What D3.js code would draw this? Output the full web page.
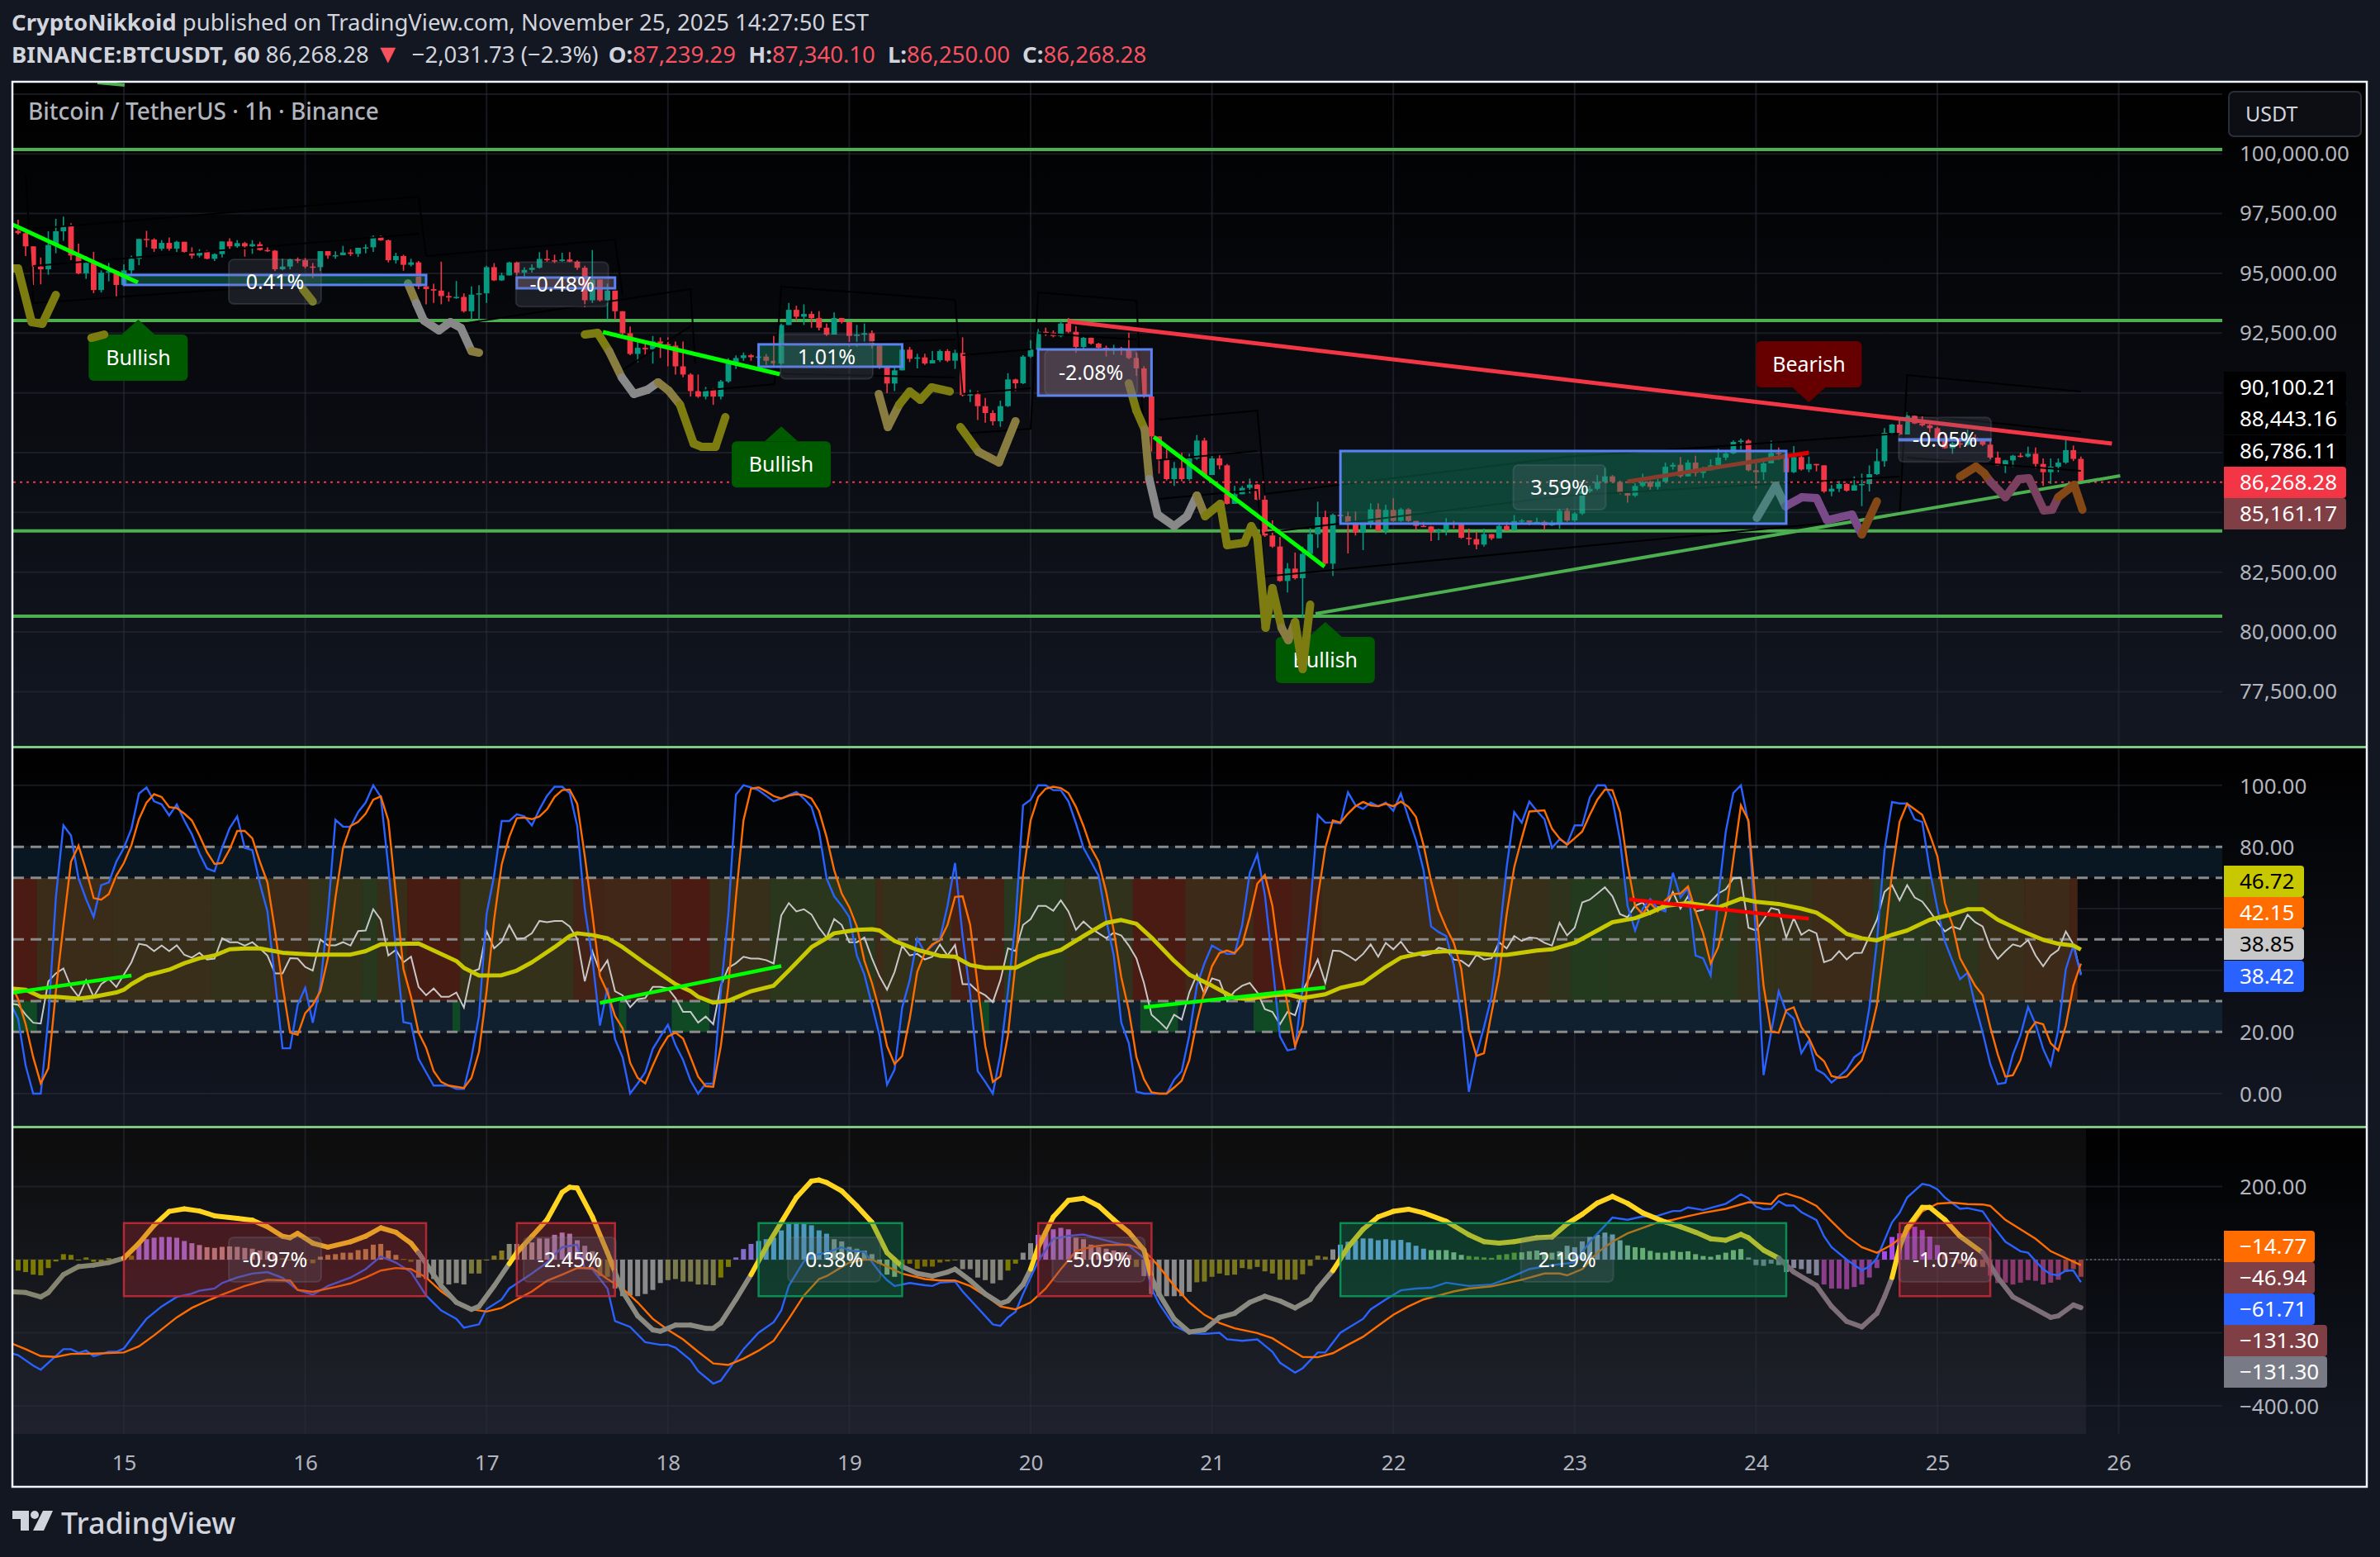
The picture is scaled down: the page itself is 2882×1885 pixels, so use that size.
<!DOCTYPE html>
<html><head><meta charset="utf-8">
<script src="https://cdnjs.cloudflare.com/ajax/libs/d3/7.8.5/d3.min.js"></script>
<style>html,body{margin:0;background:#131722}svg{display:block}text{font-family:"Noto Sans",sans-serif}</style>
</head><body><svg id="c" width="2882" height="1885"></svg>
<script>
// ---- candle data: one value per hour, hour 0 = Nov 15 00:00, first bar = hour -14
const firstOpen = 96780;
const closes = [96680,96130,95285,95170,96185,96760,96970,95745,95000,95435,94305,95030,95090,94515,
95125,95610,96440,96415,96035,96275,96035,96320,95900,95745,95900,95610,95805,96335,96130,96265,96130,96220,95975,95950,95170,95285,95585,95550,95285,95260,95930,95745,95760,95875,95815,96070,96090,96530,96380,95550,95725,95355,95460,94455,
94340,94280,94050,93990,94015,93415,94110,94165,95260,94705,94915,95455,95030,95145,95235,95605,95550,95515,95580,95490,95235,93875,94740,93875,94280,93415,92495,91630,91885,91825,92150,92035,91975,91110,90767,90075,89845,90135,89845,90480,91228,91458,91573,91493,91520,91343,91228,92840,93474,93186,93302,93128,92725,
92440,93132,92959,92383,92440,92498,91980,91116,90390,90943,91807,91427,91485,91231,91369,91749,91346,91669,89906,89941,89445,89157,88812,89445,90563,90402,91519,91807,92556,92521,92383,92901,92556,91922,92302,92060,91888,91807,91865,91807,91461,91024,89849,88178,87222,86394,86855,86394,87258,
88007,86567,87258,86970,85358,85761,86026,86164,85530,84033,83572,82132,82650,82247,83261,84090,84805,82858,84897,84839,84551,84148,84494,85127,84229,85104,84644,85127,84644,84436,84413,84183,84263,84551,84494,83941,83883,83653,84090,
83916,84434,84261,84641,84665,84573,84607,84457,84549,85068,84665,84953,85875,85989,86277,86508,86277,85816,85701,86105,86277,86070,86278,86911,86992,86508,87085,86647,86763,86970,87293,87465,87949,88007,86763,86682,87051,87488,87440,86682,87316,86797,87028,86970,85876,85991,86187,85910,86140,86187,86601,87143,88329,88675,88260,89044,88721,88640,88525,88064,87684,87892,87834,88122,88030,87834,87293,86970,87177,87373,87339,87454,87028,86682,86912,87085,87604,87239,86268.28];
const highs = [97240,96875,96130,95665,96760,97280,97370,97100,96240,95720,95900,95125,95435,95125,
95380,95745,96440,96780,96470,96390,96505,96360,96320,96090,96010,95975,95840,96335,96470,96390,96320,96390,96320,96100,95975,95610,95610,95665,95640,95435,95930,95930,95920,96150,96010,96070,96210,96590,96590,96415,95860,95780,95610,95520,
94860,94570,95490,94220,94680,94165,94455,94510,95315,95430,95030,95490,95490,95260,95375,95890,95975,95780,95860,95890,95550,95315,95975,94740,94570,94280,93185,92780,92150,92150,92380,92320,92320,92150,92150,90825,90767,90250,90190,90540,91450,91573,91690,91630,91630,91630,92380,92900,93760,93647,93705,93415,93415,
92901,93362,93132,92959,92844,92901,92613,92014,91116,91058,91865,91922,91634,91634,91749,91807,91830,91807,92325,90137,90079,89791,89273,89676,90828,90597,91577,92210,92671,92729,92613,93017,93132,92786,92383,92325,92095,91980,92014,91922,92521,91692,91116,89849,88178,87777,87109,87489,87454,
88238,88122,87431,87408,87028,86106,86106,86417,86187,85703,84666,83975,82881,83318,83572,84378,85450,85070,84955,84955,85035,85035,84551,85381,85381,85323,85588,85190,85180,84644,84610,84436,84320,84759,84643,84494,84321,84183,84321,
84088,84549,84607,84895,84723,84665,84780,84665,84665,85150,85183,85010,86277,86105,86566,86854,86566,86335,85874,86220,86623,86335,86393,87085,87085,87315,87200,87373,86912,87223,87661,87604,88007,88087,88064,87200,87200,88007,87719,87488,87776,87488,87339,87028,86947,86140,86394,86220,86509,86624,86970,87661,88525,88700,88928,89182,89067,89044,88700,88583,88295,87950,88122,88468,88260,88007,88007,87546,87200,87408,87488,87753,87719,87258,87258,87258,88122,87799,87340.10];
const lows = [96620,95720,94515,94540,94940,95840,96360,95550,94960,94770,94170,94200,94665,94020,
94515,94915,95345,96090,95900,95950,95950,95900,95860,95610,95665,95585,95515,95665,95975,96070,95700,95815,95950,95895,95090,95125,95170,95435,95205,94800,95090,95610,95610,95815,95725,95690,95840,95895,96360,95460,95410,95110,95285,94340,
93705,93760,93705,93820,93935,93360,93070,93015,93760,94680,94680,94915,94915,94860,95030,95200,95490,95430,95490,95465,95145,93590,93760,93820,93070,93070,92440,91575,91285,91575,91225,91460,91110,90767,90650,89845,89790,89730,89500,89730,90420,90997,91343,91343,91228,91170,91110,91170,92840,93013,92840,92725,92610,
92383,92670,92901,91922,91922,91980,91865,91000,89987,90079,91058,91289,91024,91173,91231,91289,91289,91000,89849,89618,88869,88754,88639,88581,89411,90079,90367,91461,91749,92383,92325,92325,92498,91669,91807,92014,91807,91519,91600,91577,91404,90713,89791,87545,86623,86335,86105,86300,86335,
87201,86510,86567,86798,85335,85381,85761,85795,85496,83975,83514,82097,81648,82190,80577,83169,83514,82823,82339,84551,83284,84033,83422,84344,84206,84090,84609,84609,84606,84263,84390,83802,83837,84033,84330,83900,83630,83457,83572,
83850,83916,84230,84261,84510,84465,84550,84261,84432,84319,84610,84610,84895,85816,85930,86220,86220,85758,85413,85643,86045,85950,85930,86230,86790,86450,86700,86509,86440,86800,86912,87177,87431,87627,86720,85991,86359,87440,87200,86650,86647,86750,86682,86717,85818,85680,85850,85870,85910,85265,85876,86567,86912,88237,88230,88260,88695,88590,88350,87950,87660,87454,87700,87800,87950,87780,87223,86947,86647,86900,87295,87295,86832,86106,86187,86680,87028,87150,86250];

// ---- RSI pane series: one value per hour, first = hour -15
const rsiBlue = [29.2,24.3,9.1,0,0,24.3,63.6,87,83.7,69.8,63.1,57.3,67.6,68.5,75.2,79.7,85.9,97.3,99.3,94.8,93.8,90.2,93.8,88.6,84.1,77.9,73,72.1,79.7,86.1,89.9,79.7,79,68.1,59.1,36.8,14.7,14.7,28.8,34.3,23,35,58.2,88.8,86.6,86.5,91.3,94.4,100,96.2,73.4,46.6,23.2,22.7,11.3,6.9,2.6,2.6,2.6,1.5,1.5,11.8,25.2,58.2,70.7,88.4,88.4,90.6,89.9,87,92.2,96.6,99.5,99.5,97.5,86.8,60,43.9,22.1,34.3,17.6,11.8,0,3.3,6.9,14.5,18.5,22.3,15.8,10.9,4.2,0,3.2,3.2,33.2,58.2,96.9,100,99.3,98.4,96.6,94.8,95.7,96.8,97.8,95.7,93,85,69.8,
64,60.9,57.3,44.8,38.6,28.8,18.9,2.9,7.8,27.9,36.8,50.2,45.7,48,50.2,60.9,74.8,51.1,32.3,7.3,3.8,0,12.7,33.2,55.6,93.5,95.3,100,100,98.4,98.4,94.8,87.7,79.7,75.2,70.7,56.4,44.8,23,16.3,.6,0,0,0,0,4.5,7.3,18.9,35,42.2,48,46.6,45.3,45.3,54.7,71.6,77.6,64.5,42.2,18.5,14,14.5,35,60,90.4,87.9,87.9,87.7,97.7,93.5,92.3,94.4,93.2,94.4,91.7,97.3,89.5,82.3,72.5,54.2,52.4,51.1,41.7,24.3,.6,12.7,21.6,31.4,50.2,73.4,91.3,87.9,94.7,91.7,89,79.7,82.5,81,87,87,96,100,100,95.3,82.3,60.9,52.9,60,63.1,
60,59.1,71.6,63.6,66.7,44.8,43.9,38.3,63.6,85,97.5,100,87.7,51.1,6,19.8,33.2,26.5,24.3,13.1,17.2,7.8,6.4,3.6,5.6,7.8,11.8,13.6,27.9,49.3,78.8,94.6,94.1,94.1,89,88.1,72.5,60,49.3,43,37.1,39.2,28.8,19.8,9.6,3.1,3.5,12.7,18.9,28.1,22.5,14.5,9.1,20.7,40.4,48,38.42];
const rsiOrange = [35.9,30.6,22.5,11.8,3.3,8.2,33.2,54.7,75.2,80.4,72.5,63.4,62.9,64.7,70.7,74.8,80.6,89,94.4,97.1,96.2,92.9,92.6,90.8,88.6,83.7,78.3,74.5,74.8,79.2,85.2,85.2,82.8,75.2,68.5,52.9,35,19.8,19.1,26.1,28.8,33.2,43.9,63.6,79.7,86.8,88.1,90.8,95.3,96.4,88.6,64.5,40.4,31.4,19.8,14.9,7.3,3.8,2.6,2.2,1.8,5.1,13.6,33.2,56.4,74.3,83.2,89.3,89.5,89,89.9,92.2,96.2,98.4,98.6,94,77,58.2,38.1,32.8,25.2,21.2,10,5.1,3.3,9.1,14.5,18.5,19.8,17.9,11.8,5.5,2.4,2.2,15.4,35,63.6,88.6,98.9,99.3,98,96.5,95.7,96.6,97.1,96.8,95.7,91.7,83.2,
72.5,64.9,60.5,54.2,43.1,35.9,27,15.4,9.6,12.2,24.3,39.5,45.7,48.4,49.7,54.7,63.8,64,54.7,35,15.4,3.8,5.6,18.9,42.2,70.7,88.6,96.2,98.9,99.5,99.1,97.5,93,86.8,79.7,75.2,65.4,52.9,37.7,27,11.8,4.7,.4,0,0,2,4.2,10.9,23.4,33.2,41.3,45.6,46.4,45.6,48.4,57.3,68.1,70.9,60.9,42.2,28.8,15.4,22.1,43.1,63.6,79.7,88.6,87.9,90.8,93.2,94.6,93.5,93.2,94,93.2,94.7,93,89.7,80.6,68.9,59.6,53.8,48.9,40.4,20.7,12.2,13.1,26.1,38.6,58.2,73.4,82.8,91.5,91.7,91.9,85.9,82.8,80.7,82.8,85,90.4,95.3,98.6,98.4,91.3,74.3,60.9,58.2,61.8,
59.1,62.7,64.7,64.9,67.2,59.1,52,42.2,47.5,58.2,76.1,93.5,88.6,60,35,20.1,19.8,27,28,21.6,18,12.7,10.5,5.7,5.1,5.5,8.2,10.9,18,28.8,49.3,71.6,88.1,94,92.2,90.4,84.1,77,61.8,54.7,43.9,39.5,35,31.9,21.6,12.7,5.5,6,10.9,19.8,23.2,22.5,16.3,14,22.1,35,42.15];
const rsiWhite = [29.2,28.8,25.6,23,22.7,36.4,39,40.6,34.6,31.4,36.8,31.4,35.5,37.2,34.6,38.6,42.6,48.6,48.1,46.2,48,46.2,48.1,45,44.1,45.7,43.5,43.8,50.4,49.1,49.1,48,49.1,47.1,44.8,39,39,43.9,43.8,41.1,39.9,50,48.1,48.1,49.1,48,52.7,52.9,59.8,56.4,44.8,46.6,42.6,44.4,34.6,31.9,34.1,31.4,31.4,32.8,27.9,39.5,40.4,52.7,47.1,49.3,54.7,50.2,50.4,52,56,55.6,56,56,54.2,50.2,36.4,46.2,39.5,43.2,33.2,31.9,28,30.6,31,34.6,34.6,34.1,31,26.5,26.5,23,25,22.5,35,40.8,42.3,44.4,43.8,43.8,43.3,42.2,57.8,61.8,59.1,59.8,58.1,53.8,50.6,
56.6,54.7,49.1,49.1,50.6,43.9,38.1,33.7,39.5,48,44.8,45.3,43.5,44.4,48.4,44.8,48.2,35.5,35.5,33.2,31.9,29.7,36.8,47.1,46.2,54.7,56.6,60.9,60.9,59.3,62.7,59.1,53.1,55.8,53.6,52,50.4,52.2,51.3,48,43.9,35.9,25.6,23.4,21,25.6,24,32.8,38.6,32.3,37.4,36.6,30.1,33.2,35,35.9,32.8,27.4,26.5,22.5,26.5,25.4,33.2,38.1,43.5,35.9,46.4,46.2,44.8,43.2,45.3,48.4,44.4,48.9,46.8,49.3,45.9,45.3,44.7,45.3,47.3,46.8,43.5,43.1,41.3,45,43.5,43.9,49.1,47.1,51.1,49.5,50.6,50.4,48.9,48,55.4,51.3,53.8,62,62.9,64.9,66.9,64,58.2,57.2,60.9,62,58.2,
60.5,60,65.4,60,64,59.1,59.6,62.3,64.9,66.3,69.8,70,53.8,52.9,56.4,60.2,59.6,50.6,56.9,51.5,53.1,52,42.6,43.5,46.2,43.5,45.6,45.7,51.1,56.4,65.4,67.6,62.7,67.6,63.6,62.3,59.1,55.6,52.6,54.2,53.3,58,55.6,54.2,47.5,43.7,46.2,48.4,47.7,49.8,44.8,41.3,44.8,46.6,52.6,48.4,38.85];
// RSI moving average, read at its bends as [hour, value]
const rsiYellow = [[-15,34.1],[-13,33.7],[-11,31.4],[-9,31.4],[-6,30.8],[-4,31.4],[-1,32.8],[0,33.7],[1,35.5],[3,38.3],[6,40.2],[8,42.3],[10,43.9],[12,44.8],[14,46.8],[16,47.1],[18,47.1],[21,45.7],[25,45.1],[30,45.1],[32,46.2],[34,48.4],[39,48.7],[44,43],[45,40.8],[47,38.3],[50,38.4],[52,39.9],[54,42.6],[57,47.5],[59,51.1],[60,52],[62,51.4],[64,50.4],[66,47.5],[69,42.2],[73,35.5],[75,33.2],[76,31.4],[78,29.5],[80,30.1],[83,33.2],[86,35],[88,39.9],[91,47.5],[93,50.4],[94,52],[97,53.1],[99,53.3],[100,52.9],[102,49.5],[105,46.6],[108,44.7],[110,44.4],[112,41.7],[114,40.8],[118,40.8],[121,44.4],[124,46.6],[127,51.1],[130,55.4],[132,56.3],[134,55.1],[136,50.6],[139,43],[141,38.6],[144,35],[147,31],[149,30.7],[152,31.9],[154,32.2],[156,31],[159,32.2],[161,34.3],[164,35.9],[167,41.1],[169,44.1],[172,45.7],[175,46.2],[178,45.7],[181,45],[183,45],[187,46.4],[189,46.8],[192,48.9],[195,52.9],[197,55.6],[200,56.9],[202,58.7],[204,60.9],[207,61.8],[211,60.4],[214,63.2],[216,62.2],[219,61.5],[222,60],[224,58.7],[226,55.6],[228,51.8],[230,50.4],[232,49.7],[234,51.5],[236,52.9],[239,56.4],[242,58.2],[244,59.8],[246,59.8],[248,56.4],[251,52.9],[254,49.9],[256,48.6],[258,48],[259,46.72]];
// heat band between 30 and 70: [from hour, to hour, level]
const heat = [[-15,-11,-.95],[-11,-1,-.1],[-1,12,0],[12,20,.25],[20,25,-.2],[25,32,.3],[32,34,.7],[34,38,.05],[38,45,-.85],[45,60,.25],[60,64,-.6],[64,73,-.45],[73,78,-.95],[78,86,.1],[86,100,.6],[100,101,-.3],[101,110,.25],[110,117,-.75],[117,125,.7],[125,134,.35],[134,141,-.95],[141,150,-.3],[150,155,-.95],[155,159,-.7],[159,177,-.1],[177,189,.1],[189,192,.4],[192,197,.8],[197,214,.7],[214,219,.3],[219,224,.2],[224,232,-.2],[232,239,.7],[239,246,.5],[246,252,0],[252,258,-.3],[258,259,-.6]];
// hours shaded green between RSI 20 and 30
const oversold = [[-15,-11],[44,45],[66,67],[73,78],[114,115],[135,140],[150,155]];
const rsiTrends = [{pts:[[-15,32.6],[1,38.3]],c:"#00ff00"},{pts:[[63,29.4],[87,41.4]],c:"#00ff00"},{pts:[[135,28],[159,34.4]],c:"#00ff00"},{pts:[[199.2,63],[223,56.7]],c:"#ff0000"}];

// ---- MACD pane
const macdHist = [-30,-30,-34,-41,-43,-23,-5,15,13,-2,6,-6,-8,4,4,8,11,41,56,60,62,62,60,51,45,40,34,32,35,36,35,32,30,25,23,15,4,0,4,0,-10,8,13,15,19,19,26,29,41,43,25,13,2,-6,-49,-53,-53,-66,-68,-64,-68,-38,-38,-1,11,25,43,43,45,47,58,58,68,74,71,53,38,23,-45,-47,-79,-100,-98,-100,-94,-83,-64,-56,-53,-60,-60,-68,-68,-70,-49,-20,6,29,43,51,56,60,80,98,100,98,94,80,71,
56,50,35,30,25,15,-11,-41,-47,-23,-11,-25,-19,-19,-8,-5,-2,-26,-26,-49,-56,-65,-56,-30,-11,19,45,68,79,83,87,83,60,56,41,34,30,25,20,13,-20,-45,-94,-100,-100,-100,-100,-88,-62,-60,-47,-38,-43,-41,-23,-26,-20,-32,-38,-55,-55,-55,-40,-17,11,8,28,41,49,53,58,58,53,56,53,54,47,38,30,26,26,26,20,13,10,8,6,5,13,15,19,20,23,25,20,19,23,38,34,50,62,68,74,69,53,39,34,32,24,
19,19,24,21,23,15,10,8,13,19,26,29,6,-15,-17,-11,-15,-34,-23,-26,-38,-43,-68,-79,-79,-81,-75,-68,-49,-23,23,62,72,92,90,81,63,40,19,4,-11,-15,-19,-20,-44,-64,-63,-68,-63,-56,-58,-68,-63,-55,-34,-26,-46.94];
const histStops = [[-15,"#808000"],[1,"#8a8000"],[2,"#ac7cff"],[8,"#ac7cff"],[11,"#c89898"],[20,"#c89898"],[21,"#8a7a10"],[25,"#8a7a10"],[26,"#c09050"],[36,"#c09050"],[37,"#807000"],[38,"#807000"],[39,"#8f8f88"],[45,"#8f8f88"],[46,"#808040"],[50,"#908020"],[51,"#90907a"],[54,"#c8a8a8"],[57,"#b898e0"],[60,"#b898e0"],[62,"#a09090"],[63,"#808020"],[64,"#808020"],[65,"#909090"],[71,"#909090"],[72,"#807f50"],[78,"#807f50"],[79,"#808000"],[80,"#808000"],[81,"#8a70d8"],[83,"#8a70d8"],[84,"#74a6ff"],[93,"#74a6ff"],[94,"#a8a8a8"],[99,"#a8a8a8"],[100,"#a8b888"],[102,"#a8b888"],[103,"#807000"],[110,"#807000"],[111,"#8a8a80"],[116,"#8a8a80"],[117,"#808000"],[118,"#808000"],[119,"#8f8f8f"],[120,"#8f8f8f"],[121,"#ac7cff"],[125,"#ac7cff"],[126,"#c89898"],[133,"#c89898"],[134,"#808020"],[135,"#909090"],[141,"#909090"],[142,"#807a20"],[159,"#807a20"],[160,"#909090"],[161,"#7cacff"],[172,"#7cacff"],[173,"#98c898"],[177,"#98c898"],[178,"#70a030"],[184,"#70a030"],[185,"#98c888"],[190,"#98c898"],[192,"#98a8e0"],[197,"#98a8e0"],[200,"#98c888"],[214,"#98c888"],[215,"#8a8aa0"],[224,"#8a8aa0"],[225,"#903f90"],[232,"#903f90"],[233,"#b04cf8"],[240,"#b04cf8"],[241,"#a06050"],[246,"#a06050"],[247,"#903a70"],[256,"#903a70"],[257,"#a04040"],[259,"#a04040"]];
const macdBlue = [[-15,-256],[-14,-261],[-12,-290],[-11,-301],[-10,-282],[-8,-245],[-7,-245],[-6,-255],[-5,-249],[-4,-264],[-2,-252],[-1,-252],[0,-243],[2,-188],[3,-162],[5,-128],[7,-102],[9,-93],[10,-85],[12,-79],[13,-64],[15,-49],[17,-38],[19,-34],[21,-50],[23,-83],[25,-96],[27,-72],[30,-49],[32,-26],[34,9],[36,-8],[38,-34],[40,-98],[42,-139],[44,-162],[45,-186],[47,-177],[48,-135],[50,-109],[51,-79],[54,-38],[56,-8],[58,34],[60,41],[61,-23],[62,-26],[64,-79],[65,-168],[67,-184],[69,-226],[71,-233],[72,-233],[73,-241],[75,-275],[76,-305],[78,-339],[79,-331],[82,-245],[84,-200],[86,-171],[87,-139],[88,-72],[90,-4],[91,11],[93,19],[95,34],[96,25],[98,21],[100,-34],[101,-56],[102,-72],[104,-64],[106,-70],[107,-72],[108,-63],[110,-60],[111,-87],[113,-132],[115,-177],[116,-181],[117,-158],[118,-143],[119,-94],[121,-4],[123,57],[125,65],[127,69],[129,58],[131,47],[133,38],[135,4],[136,-79],[137,-120],[139,-181],[141,-201],[143,-203],[145,-200],[146,-218],[148,-222],[150,-218],[152,-252],[153,-282],[155,-309],[156,-297],[158,-254],[159,-254],[161,-200],[164,-162],[165,-136],[167,-109],[169,-84],[171,-79],[173,-77],[175,-63],[178,-72],[181,-68],[183,-53],[186,-26],[189,-15],[192,-8],[194,49],[197,115],[199,109],[201,118],[203,120],[205,133],[206,133],[207,143],[209,136],[212,153],[214,179],[215,168],[216,145],[217,138],[218,139],[219,160],[220,148],[221,148],[222,130],[224,108],[225,64],[226,34],[228,0],[230,-29],[231,-19],[232,4],[234,102],[235,128],[236,170],[238,207],[239,203],[240,192],[241,170],[243,139],[244,141],[246,132],[247,102],[249,49],[251,23],[252,19],[253,-4],[254,-26],[255,-40],[256,-43],[257,-30],[258,-30],[259,-61.71]];
const macdOrange = [[-15,-228],[-13,-245],[-11,-264],[-9,-266],[-7,-258],[-4,-257],[0,-254],[2,-237],[4,-207],[7,-158],[9,-132],[11,-113],[13,-96],[16,-72],[19,-55],[22,-57],[23,-83],[25,-88],[28,-75],[30,-65],[32,-49],[34,-30],[36,-23],[38,-26],[40,-49],[42,-87],[44,-117],[46,-136],[48,-142],[50,-132],[52,-109],[54,-87],[56,-58],[58,-41],[60,-23],[62,-23],[64,-53],[66,-79],[68,-117],[70,-162],[72,-192],[74,-218],[76,-252],[78,-284],[80,-288],[82,-271],[84,-249],[86,-222],[88,-162],[90,-98],[92,-53],[93,-45],[96,-8],[98,0],[99,0],[101,-19],[103,-38],[106,-53],[108,-57],[110,-57],[112,-72],[114,-98],[116,-128],[118,-136],[120,-117],[122,-79],[124,-26],[126,23],[128,35],[130,40],[133,41],[135,26],[137,-19],[139,-72],[141,-117],[143,-151],[145,-173],[147,-188],[150,-201],[152,-215],[154,-241],[156,-266],[158,-267],[160,-256],[162,-233],[164,-211],[166,-181],[168,-151],[170,-128],[172,-109],[174,-98],[176,-87],[178,-79],[181,-73],[183,-64],[185,-55],[188,-38],[190,-38],[191,-43],[193,-26],[195,19],[197,49],[199,72],[201,87],[203,102],[205,109],[207,119],[209,128],[212,139],[215,157],[218,152],[219,175],[220,181],[222,168],[224,147],[226,105],[228,64],[230,34],[232,19],[234,41],[236,75],[238,132],[240,153],[242,156],[244,152],[246,151],[247,147],[249,109],[251,83],[253,57],[255,23],[257,4],[259,-14.77]];
const macdThick = [[-15,-88],[-13,-90],[-11,-102],[-10,-90],[-8,-41],[-6,-19],[-4,-15],[-2,-8],[0,4],[2,45],[4,94],[6,132],[8,139],[10,133],[12,120],[15,113],[17,108],[19,90],[21,64],[22,60],[23,72],[25,45],[27,34],[30,49],[32,64],[34,87],[36,75],[38,45],[39,19],[40,-11],[42,-72],[44,-117],[46,-136],[47,-128],[49,-72],[51,-11],[52,19],[54,64],[56,109],[58,184],[59,198],[60,196],[62,117],[64,19],[65,-34],[66,-87],[68,-154],[70,-192],[71,-196],[73,-179],[75,-179],[77,-188],[78,-188],[79,-173],[81,-109],[83,-41],[85,34],[87,102],[89,170],[91,215],[92,218],[93,211],[95,188],[97,147],[99,102],[101,19],[102,0],[103,-19],[105,-38],[107,-45],[109,-34],[110,-26],[112,-57],[114,-94],[116,-120],[117,-113],[119,-68],[120,-26],[121,34],[123,117],[125,162],[127,168],[129,147],[131,109],[133,75],[135,26],[136,-49],[137,-94],[139,-162],[141,-198],[143,-192],[145,-158],[147,-147],[149,-117],[151,-100],[153,-113],[155,-132],[157,-109],[158,-79],[160,-30],[162,34],[164,83],[166,117],[168,132],[170,138],[172,128],[175,105],[178,68],[180,49],[182,45],[184,49],[187,60],[189,62],[191,98],[193,124],[195,155],[197,173],[199,154],[201,128],[204,103],[206,90],[208,75],[210,57],[212,53],[214,69],[215,60],[217,26],[219,4],[221,-34],[224,-71],[226,-128],[228,-169],[230,-184],[232,-147],[233,-102],[234,-49],[235,34],[236,87],[238,143],[239,143],[241,109],[243,64],[246,19],[248,-49],[250,-102],[252,-124],[255,-158],[256,-154],[258,-124],[259,-131.3]];
const thickColours = [[-15,"#85856f"],[-1,"#ffd520"],[39,"#8a8a80"],[51,"#ffd520"],[65,"#8a8a80"],[83,"#ffd520"],[103,"#8a8a80"],[120,"#ffd520"],[136,"#8a8a80"],[160,"#ffd520"],[219,"#7e6e78"],[234,"#ffd520"],[246,"#7e6e78"]];

// ---- price pane annotations, all [hour, price]
const levels = [100180,93030,84230,80660];
const underLines = [{pts:[[124.9,92994],[263.1,87881]],c:"#f23645",w:5},{pts:[[157.7,80763],[264.2,86533]],c:"#4caf50",w:4},{pts:[[199,86291],[223,87501]],c:"#e00000",w:5},{pts:[[-3.5,102980],[.1,102876]],c:"#4caf50",w:4}];
const overLines = [{pts:[[-14.7,97036],[1.86,94618]],c:"#00ff00",w:5},{pts:[[63.4,92545],[86.8,90783]],c:"#00ff00",w:5},{pts:[[136.3,88157],[158.9,82733]],c:"#00ff00",w:5}];
const channels = [[[-13,99178],[-12,93754]],[[-12,96864],[39,98211]],[[-12,95309],[39,96657]],[[-12,93754],[40,94929]],[[39,98211],[40,95724]],[[40,95724],[65,96415],[66,94100]],[[40.4,92684],[75,94341],[75.6,91232]],[[66,90956],[75,92787]],[[76.3,90095],[86.1,90369],[87,94444],[110,93892]],[[87,92000],[110,92234]],[[87,90800],[110,90645]],[[110,93892],[111,89954],[120,90196]],[[111,91577],[120,91819]],[[111,88295],[120,88503],[121,94203],[134,93858],[135,88192]],[[121,92500],[134,92234]],[[137,88883],[150,89263],[151,85773]],[[137,87190],[150,87570]],[[137,85566],[150,85946],[151,82319],[235,84841],[236,90749],[259,90058]],[[151,85773],[191,87328],[235,88296]],[[151,84150],[191,85704],[235,86499]],[[236,89124],[259,88365]],[[236,87293],[259,86741]]];
const priceBoxes = [[0,40,94932,94517,"g"],[52,65,94825,94376,"r"],[84,103,92030,91094,"g"],[121,136,91819,89885,"r"],[161,220,87569,84529,"g"],[235,247,88055,88020,"r"]];
const priceLabels = [[20,94650,"0.41%"],[58,94540,"-0.48%"],[93,91520,"1.01%"],[128,90850,"-2.08%"],[190,86050,"3.59%"],[241,88040,"-0.05%"]];
const flags = [[1.9,93063,"Bullish",1],[87,88600,"Bullish",1],[159,80420,"Bullish",1],[223,89608,"Bearish",-1]];
const curveSegs = [
 {pts:[[-14.6,95205],[-14,95205],[-12.2,92960],[-10.8,92890],[-9,94100]],k:"OOOOO"},
 {pts:[[-4.3,92300],[-2.6,92440]],k:"OO"},
 {pts:[[23.7,94340],[25,93820]],k:"OO"},
 {pts:[[37.6,94580],[38.7,93750],[39.7,93030],[41.7,92615],[43.2,92960],[44.6,92720],[46,91750],[47,91680]],k:"TGGGGGTO"},
 {pts:[[61,92440],[62.7,92510],[64.2,91750],[65.9,90645],[67.5,89955],[69.3,90130],[70.7,90440],[72.1,90095],[73.6,89505],[75.4,87880],[76.5,87740],[78.3,87740],[79.6,88985]],k:"OOTGGGTTOOOOO"},
 {pts:[[99.9,89955],[101.1,88570],[102.6,89505],[104,90060],[105.4,89710],[106.9,90230],[109.3,90060]],k:"TTOOOOO"},
 {pts:[[110.7,88570],[113.1,87535],[115.8,87090],[118,88815]],k:"OTTO"},
 {pts:[[133,90400],[134,89260],[135.1,88470],[135.7,86395],[136.8,84910],[139,84425],[140.7,84840],[142,85705],[143.1,84840],[145.1,85360],[146,83630],[148.3,83735],[149.2,84425],[150,83975],[151.1,80175],[152,81835],[153.2,80175],[154.1,79655],[155,80415],[156,78445],[157,81140]],k:"OOTGGGGTOOOOOOOOTTOOO"},
 {pts:[[216.1,84770],[218.6,86120],[219.9,85255],[222.1,85635],[224,85600],[225.4,84670],[228.7,84910],[230,84080],[232,85460]],k:"BBPPPPPRR"},
 {pts:[[243,86500],[245.1,86915],[246.2,86640],[247,86290],[249,85635],[250.8,86395],[252.1,86430],[254.1,85080],[255.2,85115],[256,85635],[258.1,86155],[259.2,85115]],k:"RRRMMMMMMRRM"}];
const curveColours = {O:"#7c7c10",T:"#887c40",G:"#888888",B:"#78788c",P:"#7a4a88",R:"#844816",M:"#7a4060"};
const macdBoxes = [[0,40,"r"],[52,65,"r"],[84,103,"g"],[121,136,"r"],[161,220,"g"],[235,247,"r"]];
const macdLabels = [[20,"-0.97%"],[59,"-2.45%"],[94,"0.38%"],[129,"-5.09%"],[191,"2.19%"],[241,"-1.07%"]];

// ---- axis labels and tags
const priceTicks = [100000,97500,95000,92500,82500,80000,77500];
const priceGrid = [102500,100000,97500,95000,92500,90000,87500,85000,82500,80000,77500];
const rsiTicks = [100,80,20,0], rsiGrid = [100,80,60,40,20,0], rsiDashes = [80,70,50,30,20];
const macdTicks = [200,-400], macdGrid = [200,0,-200,-400];
const days = [15,16,17,18,19,20,21,22,23,24,25,26];
const priceTags = [["90,100.21","#000000","#ffffff",469],["88,443.16","#000000","#ffffff",507],["86,786.11","#000000","#ffffff",546],["86,268.28","#f23645","#ffffff",584],["85,161.17","#803f45","#ffffff",622]];
const rsiTags = [["46.72","#c8c800","#000000",1067],["42.15","#ff6d00","#ffffff",1105],["38.85","#c8c8c8","#000000",1143],["38.42","#2962ff","#ffffff",1182]];
const macdTags = [["−14.77","#ff6d00","#ffffff",1509,110],["−46.94","#803f45","#ffffff",1547,110],["−61.71","#2962ff","#ffffff",1585,110],["−131.30","#803f45","#ffffff",1623,125],["−131.30","#787b86","#ffffff",1661,125]];

// ---- scales
const x = d3.scaleLinear().domain([0,240]).range([150,2346]);
const yP = d3.scaleLinear().domain([92500,82500]).range([403.3,692.7]);
const yR = d3.scaleLinear().domain([0,100]).range([1324,950.7]);
const yM = d3.scaleLinear().domain([0,-400]).range([1525,1702]);
const L=16,R=2691,FR=2866,PT=[100,906,1366],PB=[903,1363,1736];
const svg = d3.select("#c"), defs = svg.append("defs");
const grad = defs.append("linearGradient").attr("id","paneG").attr("x1",0).attr("x2",0).attr("y1",0).attr("y2",1);
grad.append("stop").attr("offset",0).attr("stop-color","#000");grad.append("stop").attr("offset",1).attr("stop-color","#131722");
const clips=["p1","p2","p3"];
clips.forEach((id,i)=>defs.append("clipPath").attr("id",id).append("rect").attr("x",L).attr("y",PT[i]).attr("width",R-L).attr("height",PB[i]-PT[i]));

// header
const hd = svg.append("g").attr("font-size",27.5).attr("fill","#d1d4dc");
const t1 = hd.append("text").attr("x",14).attr("y",37);
t1.append("tspan").attr("font-weight",700).text("CryptoNikkoid");
t1.append("tspan").text(" published on TradingView.com, November 25, 2025 14:27:50 EST");
const t2 = hd.append("text").attr("x",14).attr("y",76);
t2.append("tspan").attr("font-weight",700).text("BINANCE:BTCUSDT, 60");
t2.append("tspan").text(" 86,268.28 ");
t2.append("tspan").attr("fill","#f7525f").attr("font-size",32).text("▼");
t2.append("tspan").attr("dx",6).text(" −2,031.73 (−2.3%) ");
[["O:","87,239.29 ",5],["H:","87,340.10 ",8],["L:","86,250.00 ",8],["C:","86,268.28",8]].forEach(a=>{t2.append("tspan").attr("dx",a[2]).attr("font-weight",700).text(a[0]);t2.append("tspan").attr("fill","#f7525f").text(a[1]);});

// pane backgrounds
PT.forEach((t,i)=>svg.append("rect").attr("x",L).attr("y",t).attr("width",FR-L).attr("height",(i==2?PB[i]:PB[i]+1)-t).attr("fill","url(#paneG)"));
svg.append("rect").attr("x",L).attr("y",PT[2]).attr("width",2526-L).attr("height",PB[2]-PT[2]).attr("fill","#ffffff").attr("fill-opacity",.05);

// grids
const grid = svg.append("g").attr("stroke","#2a2e39").attr("stroke-opacity",.55).attr("stroke-width",2);
days.forEach(d=>grid.append("line").attr("x1",x((d-15)*24)).attr("x2",x((d-15)*24)).attr("y1",100).attr("y2",1736));
priceGrid.forEach(p=>grid.append("line").attr("x1",L).attr("x2",R).attr("y1",yP(p)).attr("y2",yP(p)));
rsiGrid.forEach(p=>grid.append("line").attr("x1",L).attr("x2",R).attr("y1",yR(p)).attr("y2",yR(p)));
macdGrid.forEach(p=>grid.append("line").attr("x1",L).attr("x2",R).attr("y1",yM(p)).attr("y2",yM(p)));

// ---- pane 1
const p1 = svg.append("g").attr("clip-path","url(#p1)");
const lineP = d3.line().x(d=>x(d[0])).y(d=>yP(d[1]));
p1.selectAll(".lvl").data(levels).join("line").attr("x1",L).attr("x2",R).attr("y1",d=>yP(d)).attr("y2",d=>yP(d)).attr("stroke","#4caf50").attr("stroke-width",4);
const bars = closes.map((c,i)=>({h:i-14,o:i?closes[i-1]:firstOpen,c,hi:highs[i],lo:lows[i]}));
const cg = p1.append("g");
bars.forEach(b=>{
  const up=b.c>=b.o, col=up?"#089981":"#f23645", top=Math.max(b.o,b.c), bot=Math.min(b.o,b.c);
  cg.append("line").attr("x1",x(b.h)).attr("x2",x(b.h)).attr("y1",yP(Math.max(b.hi,top))).attr("y2",yP(Math.min(b.lo,bot))).attr("stroke",col).attr("stroke-width",1.6);
  cg.append("rect").attr("x",x(b.h)-3.4).attr("width",6.8).attr("y",yP(top)).attr("height",Math.max(1.5,yP(bot)-yP(top))).attr("fill",col);
});
p1.append("g").selectAll("path").data(channels).join("path").attr("d",lineP).attr("fill","none").attr("stroke","#000").attr("stroke-width",2);
p1.append("line").attr("x1",L).attr("x2",R).attr("y1",yP(86268.28)).attr("y2",yP(86268.28)).attr("stroke","#f23645").attr("stroke-width",2).attr("stroke-dasharray","3 5");
underLines.forEach(l=>p1.append("path").attr("d",lineP(l.pts)).attr("fill","none").attr("stroke",l.c).attr("stroke-width",l.w));
// flags
flags.forEach(f=>{
  const cx=x(f[0]),ty=yP(f[1]),d=f[3],col=d>0?"#005a00":"#660000";
  const w=f[2]=="Bullish"?120:128;
  const g=p1.append("g");
  g.append("path").attr("d",`M${cx},${ty}L${cx+20},${ty+18*d}L${cx-20},${ty+18*d}Z`).attr("fill",col);
  g.append("rect").attr("x",cx-w/2).attr("y",d>0?ty+18:ty-74).attr("width",w).attr("height",56).attr("rx",6).attr("fill",col);
  g.append("text").attr("x",cx).attr("y",(d>0?ty+46:ty-46)).attr("dy",".36em").attr("text-anchor","middle").attr("font-size",25).attr("fill","#fff").text(f[2]);
});
// thick curve
curveSegs.forEach(s=>{
  s.pts.slice(1).forEach((p,i)=>{
    p1.append("path").attr("d",lineP([s.pts[i],p])).attr("fill","none").attr("stroke",curveColours[s.k[i]]).attr("stroke-width",10).attr("stroke-linecap","round");
  });
});
// boxes
priceBoxes.forEach(b=>{
  p1.append("rect").attr("x",x(b[0])).attr("width",x(b[1])-x(b[0])).attr("y",yP(b[2])).attr("height",yP(b[3])-yP(b[2]))
   .attr("fill",b[4]=="g"?"#14906a":"#8f6a78").attr("fill-opacity",.42).attr("stroke","#5b82f5").attr("stroke-width",3);
});
function chip(g,cx,cy,txt){
  g.append("rect").attr("x",cx-56).attr("y",cy-27).attr("width",112).attr("height",54).attr("rx",6).attr("fill","#6a6f80").attr("fill-opacity",.22).attr("stroke","#8a8f9f").attr("stroke-opacity",.2).attr("stroke-width",2);
  g.append("text").attr("x",cx).attr("y",cy).attr("dy",".36em").attr("text-anchor","middle").attr("font-size",25).attr("fill","#fff").text(txt);
}
overLines.forEach(l=>p1.append("path").attr("d",lineP(l.pts)).attr("fill","none").attr("stroke",l.c).attr("stroke-width",l.w));
priceLabels.forEach(l=>chip(p1,x(l[0]),yP(l[1]),l[2]));

// ---- pane 2
const p2 = svg.append("g").attr("clip-path","url(#p2)");
p2.append("rect").attr("x",L).attr("width",R-L).attr("y",yR(80)).attr("height",yR(70)-yR(80)).attr("fill","#081722");
p2.append("rect").attr("x",L).attr("width",R-L).attr("y",yR(30)).attr("height",yR(20)-yR(30)).attr("fill","#10202f");
const heatC = d3.scaleLinear().domain([-1,-.3,.2,1]).range(["#4a1a12","#3d2a18","#35301a","#1e3d20"]);
heat.forEach(c=>p2.append("rect").attr("x",x(c[0]-.5)).attr("width",x(c[1]-.5)-x(c[0]-.5)+.5).attr("y",yR(70)).attr("height",yR(30)-yR(70)).attr("fill",heatC(c[2])));
oversold.forEach(c=>p2.append("rect").attr("x",x(c[0]-.5)).attr("width",x(c[1]-.5)-x(c[0]-.5)).attr("y",yR(30)).attr("height",yR(20)-yR(30)).attr("fill","#0f4a24"));
rsiDashes.forEach(v=>p2.append("line").attr("x1",L).attr("x2",R).attr("y1",yR(v)).attr("y2",yR(v)).attr("stroke","#8a8a8a").attr("stroke-width",3).attr("stroke-dasharray","13 8"));
const lineR = d3.line().x(d=>x(d[0])).y(d=>yR(d[1]));
const idx = a=>a.map((v,i)=>[i-15,v]);
p2.append("path").attr("d",lineR(idx(rsiWhite))).attr("fill","none").attr("stroke","#c8c8c8").attr("stroke-width",2);
p2.append("path").attr("d",lineR(idx(rsiBlue))).attr("fill","none").attr("stroke","#2962ff").attr("stroke-width",2.4);
p2.append("path").attr("d",lineR(idx(rsiOrange))).attr("fill","none").attr("stroke","#ff6d00").attr("stroke-width",2.4);
p2.append("path").attr("d",lineR(rsiYellow)).attr("fill","none").attr("stroke","#c8c800").attr("stroke-width",5).attr("stroke-linejoin","round");
rsiTrends.forEach(l=>p2.append("path").attr("d",lineR(l.pts)).attr("fill","none").attr("stroke",l.c).attr("stroke-width",4.5));

// ---- pane 3
const p3 = svg.append("g").attr("clip-path","url(#p3)");
p3.append("line").attr("x1",2526).attr("x2",R).attr("y1",yM(0)).attr("y2",yM(0)).attr("stroke","#555").attr("stroke-width",2).attr("stroke-dasharray","2 3");
const hc = d3.scaleLinear().domain(histStops.map(d=>d[0])).range(histStops.map(d=>d[1]));
macdHist.forEach((v,i)=>{
  const h=i-15;
  p3.append("rect").attr("x",x(h)-3).attr("width",6).attr("y",Math.min(yM(v),yM(0))).attr("height",Math.max(1,Math.abs(yM(v)-yM(0)))).attr("fill",hc(h)).attr("fill-opacity",.95);
});
const lineM = d3.line().x(d=>x(d[0])).y(d=>yM(d[1]));
p3.append("path").attr("d",lineM(macdBlue)).attr("fill","none").attr("stroke","#2962ff").attr("stroke-width",2.4);
p3.append("path").attr("d",lineM(macdOrange)).attr("fill","none").attr("stroke","#ff6d00").attr("stroke-width",2.4);
const thickC = h=>{let c=thickColours[0][1];thickColours.forEach(t=>{if(h>=t[0])c=t[1];});return c;};
macdThick.slice(1).forEach((p,i)=>{
  p3.append("path").attr("d",lineM([macdThick[i],p])).attr("fill","none").attr("stroke",thickC(macdThick[i][0])).attr("stroke-width",6).attr("stroke-linecap","round");
});
macdBoxes.forEach(b=>{
  const g=b[2]=="g";
  p3.append("rect").attr("x",x(b[0])).attr("width",x(b[1])-x(b[0])).attr("y",yM(100)).attr("height",yM(-100)-yM(100))
   .attr("fill",g?"#0a8a50":"#b22833").attr("fill-opacity",.32).attr("stroke",g?"#0a9e5c":"#c82c38").attr("stroke-opacity",.85).attr("stroke-width",2.5);
});
macdLabels.forEach(l=>chip(p3,x(l[0]),yM(0),l[1]));

// separators & frame
[904.5,1364.5].forEach(y=>svg.append("line").attr("x1",L).attr("x2",FR).attr("y1",y).attr("y2",y).attr("stroke","#81c784").attr("stroke-width",3));
svg.append("rect").attr("x",15).attr("y",99).attr("width",FR-15).attr("height",1701).attr("fill","none").attr("stroke","#f0f3fa").attr("stroke-width",2.5);

// axes
const fmt = d3.format(",.2f");
function axis(scale,ticks,dy){
  const g=svg.append("g").attr("transform",`translate(2712,${dy})`).call(d3.axisRight(scale).tickValues(ticks).tickSize(0).tickPadding(0).tickFormat(fmt));
  g.select(".domain").remove();
  g.selectAll("text").attr("font-size",26).attr("fill","#b2b5be").attr("font-family","Noto Sans");
}
axis(yP,priceTicks,0);axis(yR,rsiTicks,1);axis(yM,macdTicks,1);
const ta=svg.append("g").attr("transform","translate(0,1762)").call(d3.axisBottom(x).tickValues(days.map(d=>(d-15)*24)).tickSize(0).tickPadding(0).tickFormat(h=>15+h/24));
ta.select(".domain").remove();
ta.selectAll("text").attr("font-size",26).attr("fill","#b2b5be").attr("font-family","Noto Sans");

// tags
function tag(t,w){
  const ww=t[4]||w;
  svg.append("path").attr("d",`M2693,${t[3]-19}h${ww-4}q4,0 4,4v30q0,4 -4,4h-${ww-4}z`).attr("fill",t[1]);
  svg.append("text").attr("x",2712).attr("y",t[3]).attr("dy",".36em").attr("font-size",26).attr("fill",t[2]).text(t[0]);
}
priceTags.forEach(t=>tag(t,148));rsiTags.forEach(t=>tag(t,97));macdTags.forEach(t=>tag(t,110));

// top-left title and currency button
svg.append("text").attr("x",34).attr("y",145).attr("font-size",28).attr("font-weight",500).attr("fill","#b2b5be").text("Bitcoin / TetherUS · 1h · Binance");
svg.append("rect").attr("x",2699).attr("y",111).attr("width",160).attr("height",54).attr("rx",6).attr("fill","#0c0e13").attr("stroke","#2a2e39").attr("stroke-width",2);
svg.append("text").attr("x",2719).attr("y",147).attr("font-size",25).attr("fill","#d1d4dc").text("USDT");

// TradingView logo
const lg=svg.append("g").attr("fill","#d1d4dc");
lg.append("path").attr("d","M15,1829h20v24h-10v-14h-10z");
lg.append("circle").attr("cx",42).attr("cy",1834).attr("r",5);
lg.append("path").attr("d","M52,1829h12l-11,24h-13z");
lg.append("text").attr("x",74).attr("y",1857).attr("font-size",36).attr("font-weight",500).text("TradingView");
</script></body></html>
